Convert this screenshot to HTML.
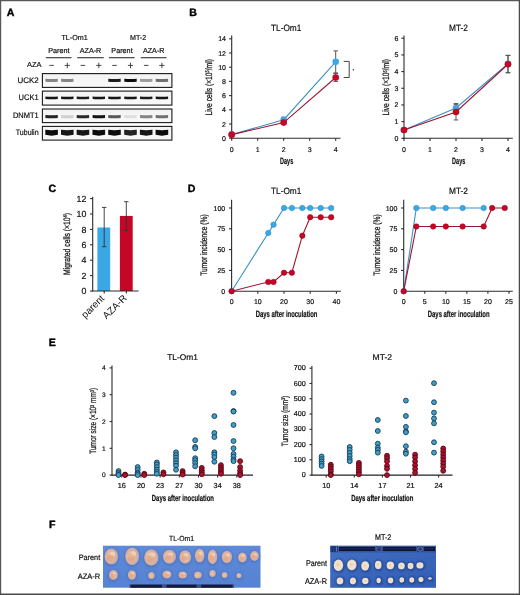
<!DOCTYPE html>
<html><head><meta charset="utf-8"><title>Figure</title>
<style>
html,body{margin:0;padding:0;background:#fff;}
body{width:520px;height:595px;overflow:hidden;position:relative;}
svg{position:absolute;left:0;top:0;display:block;will-change:transform;filter:blur(0.35px);}
svg text{font-family:"Liberation Sans", sans-serif;text-rendering:geometricPrecision;}
</style></head>
<body>
<svg width="520" height="595" viewBox="0 0 520 595">
<rect x="0" y="0" width="520" height="595" fill="#fff"/>
<text x="6.80" y="16.00" font-size="10.6" text-anchor="start" font-weight="bold" fill="#000" stroke="#000" stroke-width="0.4">A</text>
<text x="189.20" y="16.00" font-size="10.6" text-anchor="start" font-weight="bold" fill="#000" stroke="#000" stroke-width="0.4">B</text>
<text x="48.50" y="191.60" font-size="10.6" text-anchor="start" font-weight="bold" fill="#000" stroke="#000" stroke-width="0.4">C</text>
<text x="187.80" y="191.60" font-size="10.6" text-anchor="start" font-weight="bold" fill="#000" stroke="#000" stroke-width="0.4">D</text>
<text x="48.80" y="345.80" font-size="10.6" text-anchor="start" font-weight="bold" fill="#000" stroke="#000" stroke-width="0.4">E</text>
<text x="49.00" y="528.10" font-size="10.6" text-anchor="start" font-weight="bold" fill="#000" stroke="#000" stroke-width="0.4">F</text>
<text x="74.60" y="40.40" font-size="7.3" text-anchor="middle" font-weight="normal" fill="#111" textLength="26.2" lengthAdjust="spacingAndGlyphs" stroke="#111" stroke-width="0.2">TL-Om1</text>
<text x="138.10" y="40.40" font-size="7.3" text-anchor="middle" font-weight="normal" fill="#111" textLength="16.2" lengthAdjust="spacingAndGlyphs" stroke="#111" stroke-width="0.2">MT-2</text>
<text x="58.90" y="52.60" font-size="7.3" text-anchor="middle" font-weight="normal" fill="#111" textLength="21.3" lengthAdjust="spacingAndGlyphs" stroke="#111" stroke-width="0.2">Parent</text>
<text x="90.50" y="52.60" font-size="7.3" text-anchor="middle" font-weight="normal" fill="#111" textLength="21.6" lengthAdjust="spacingAndGlyphs" stroke="#111" stroke-width="0.2">AZA-R</text>
<text x="122.00" y="52.60" font-size="7.3" text-anchor="middle" font-weight="normal" fill="#111" textLength="21.3" lengthAdjust="spacingAndGlyphs" stroke="#111" stroke-width="0.2">Parent</text>
<text x="153.70" y="52.60" font-size="7.3" text-anchor="middle" font-weight="normal" fill="#111" textLength="21.6" lengthAdjust="spacingAndGlyphs" stroke="#111" stroke-width="0.2">AZA-R</text>
<line x1="45.80" y1="57.70" x2="71.50" y2="57.70" stroke="#333" stroke-width="1.1"/>
<line x1="77.20" y1="57.70" x2="103.80" y2="57.70" stroke="#333" stroke-width="1.1"/>
<line x1="108.90" y1="57.70" x2="134.60" y2="57.70" stroke="#333" stroke-width="1.1"/>
<line x1="140.80" y1="57.70" x2="166.50" y2="57.70" stroke="#333" stroke-width="1.1"/>
<text x="41.50" y="67.20" font-size="7.3" text-anchor="end" font-weight="normal" fill="#111" textLength="14.4" lengthAdjust="spacingAndGlyphs" stroke="#111" stroke-width="0.2">AZA</text>
<line x1="49.30" y1="65.40" x2="53.90" y2="65.40" stroke="#333" stroke-width="0.9"/>
<line x1="64.70" y1="65.40" x2="69.90" y2="65.40" stroke="#333" stroke-width="0.9"/>
<line x1="67.30" y1="62.70" x2="67.30" y2="68.20" stroke="#333" stroke-width="0.9"/>
<line x1="80.60" y1="65.40" x2="85.20" y2="65.40" stroke="#333" stroke-width="0.9"/>
<line x1="96.20" y1="65.40" x2="101.40" y2="65.40" stroke="#333" stroke-width="0.9"/>
<line x1="98.80" y1="62.70" x2="98.80" y2="68.20" stroke="#333" stroke-width="0.9"/>
<line x1="112.20" y1="65.40" x2="116.80" y2="65.40" stroke="#333" stroke-width="0.9"/>
<line x1="127.90" y1="65.40" x2="133.10" y2="65.40" stroke="#333" stroke-width="0.9"/>
<line x1="130.50" y1="62.70" x2="130.50" y2="68.20" stroke="#333" stroke-width="0.9"/>
<line x1="143.90" y1="65.40" x2="148.50" y2="65.40" stroke="#333" stroke-width="0.9"/>
<line x1="159.30" y1="65.40" x2="164.50" y2="65.40" stroke="#333" stroke-width="0.9"/>
<line x1="161.90" y1="62.70" x2="161.90" y2="68.20" stroke="#333" stroke-width="0.9"/>
<defs><filter id="bl" x="-30%" y="-100%" width="160%" height="300%"><feGaussianBlur stdDeviation="0.7"/></filter><filter id="bl2" x="-30%" y="-100%" width="160%" height="300%"><feGaussianBlur stdDeviation="0.8"/></filter><linearGradient id="boxbg" x1="0" y1="0" x2="0" y2="1"><stop offset="0" stop-color="#f3f3f3"/><stop offset="1" stop-color="#f9f9f9"/></linearGradient></defs>
<text x="38.60" y="82.50" font-size="8.0" text-anchor="end" font-weight="normal" fill="#111" textLength="21.1" lengthAdjust="spacingAndGlyphs" stroke="#111" stroke-width="0.2">UCK2</text>
<rect x="42.4" y="73.60" width="129.5" height="13.80" fill="url(#boxbg)" stroke="#1a1a1a" stroke-width="1.1"/>
<path d="M45.40,78.80 Q51.60,79.20 57.80,78.80 L57.80,81.80 Q51.60,82.30 45.40,81.80 Z" fill="rgb(133,133,133)" filter="url(#bl)"/>
<path d="M61.10,78.80 Q67.30,79.20 73.50,78.80 L73.50,81.80 Q67.30,82.30 61.10,81.80 Z" fill="rgb(133,133,133)" filter="url(#bl)"/>
<path d="M108.30,78.80 Q114.50,79.20 120.70,78.80 L120.70,81.80 Q114.50,82.30 108.30,81.80 Z" fill="rgb(28,28,28)" filter="url(#bl)"/>
<path d="M124.30,78.80 Q130.50,79.20 136.70,78.80 L136.70,81.80 Q130.50,82.30 124.30,81.80 Z" fill="rgb(14,14,14)" filter="url(#bl)"/>
<path d="M140.00,78.80 Q146.20,79.20 152.40,78.80 L152.40,81.80 Q146.20,82.30 140.00,81.80 Z" fill="rgb(156,156,156)" filter="url(#bl)"/>
<path d="M155.70,78.80 Q161.90,79.20 168.10,78.80 L168.10,81.80 Q161.90,82.30 155.70,81.80 Z" fill="rgb(111,111,111)" filter="url(#bl)"/>
<text x="38.60" y="100.10" font-size="8.0" text-anchor="end" font-weight="normal" fill="#111" textLength="20.1" lengthAdjust="spacingAndGlyphs" stroke="#111" stroke-width="0.2">UCK1</text>
<rect x="42.4" y="91.10" width="129.5" height="14.00" fill="url(#boxbg)" stroke="#1a1a1a" stroke-width="1.1"/>
<path d="M45.40,96.40 Q51.60,96.90 57.80,96.40 L57.80,98.90 Q51.60,99.50 45.40,98.90 Z" fill="rgb(21,21,21)" filter="url(#bl)"/>
<path d="M61.10,96.40 Q67.30,96.90 73.50,96.40 L73.50,98.90 Q67.30,99.50 61.10,98.90 Z" fill="rgb(21,21,21)" filter="url(#bl)"/>
<path d="M76.70,96.40 Q82.90,96.90 89.10,96.40 L89.10,98.90 Q82.90,99.50 76.70,98.90 Z" fill="rgb(28,28,28)" filter="url(#bl)"/>
<path d="M92.60,96.40 Q98.80,96.90 105.00,96.40 L105.00,98.90 Q98.80,99.50 92.60,98.90 Z" fill="rgb(21,21,21)" filter="url(#bl)"/>
<path d="M108.30,96.40 Q114.50,96.90 120.70,96.40 L120.70,98.90 Q114.50,99.50 108.30,98.90 Z" fill="rgb(21,21,21)" filter="url(#bl)"/>
<path d="M124.30,96.40 Q130.50,96.90 136.70,96.40 L136.70,98.90 Q130.50,99.50 124.30,98.90 Z" fill="rgb(21,21,21)" filter="url(#bl)"/>
<path d="M140.00,96.40 Q146.20,96.90 152.40,96.40 L152.40,98.90 Q146.20,99.50 140.00,98.90 Z" fill="rgb(28,28,28)" filter="url(#bl)"/>
<path d="M155.70,96.40 Q161.90,96.90 168.10,96.40 L168.10,98.90 Q161.90,99.50 155.70,98.90 Z" fill="rgb(21,21,21)" filter="url(#bl)"/>
<text x="38.60" y="117.80" font-size="8.0" text-anchor="end" font-weight="normal" fill="#111" textLength="25.7" lengthAdjust="spacingAndGlyphs" stroke="#111" stroke-width="0.2">DNMT1</text>
<rect x="42.4" y="109.00" width="129.5" height="13.60" fill="url(#boxbg)" stroke="#1a1a1a" stroke-width="1.1"/>
<path d="M45.40,115.10 Q51.60,115.50 57.80,115.10 L57.80,118.10 Q51.60,118.60 45.40,118.10 Z" fill="rgb(32,32,32)" filter="url(#bl)"/>
<path d="M61.10,115.10 Q67.30,115.50 73.50,115.10 L73.50,118.10 Q67.30,118.60 61.10,118.10 Z" fill="rgb(208,208,208)" filter="url(#bl)"/>
<path d="M76.70,115.10 Q82.90,115.50 89.10,115.10 L89.10,118.10 Q82.90,118.60 76.70,118.10 Z" fill="rgb(43,43,43)" filter="url(#bl)"/>
<path d="M92.60,115.10 Q98.80,115.50 105.00,115.10 L105.00,118.10 Q98.80,118.60 92.60,118.10 Z" fill="rgb(21,21,21)" filter="url(#bl)"/>
<path d="M108.30,115.10 Q114.50,115.50 120.70,115.10 L120.70,118.10 Q114.50,118.60 108.30,118.10 Z" fill="rgb(88,88,88)" filter="url(#bl)"/>
<path d="M124.30,115.10 Q130.50,115.50 136.70,115.10 L136.70,118.10 Q130.50,118.60 124.30,118.10 Z" fill="rgb(223,223,223)" filter="url(#bl)"/>
<path d="M140.00,115.10 Q146.20,115.50 152.40,115.10 L152.40,118.10 Q146.20,118.60 140.00,118.10 Z" fill="rgb(133,133,133)" filter="url(#bl)"/>
<path d="M155.70,115.10 Q161.90,115.50 168.10,115.10 L168.10,118.10 Q161.90,118.60 155.70,118.10 Z" fill="rgb(111,111,111)" filter="url(#bl)"/>
<text x="38.60" y="135.25" font-size="8.0" text-anchor="end" font-weight="normal" fill="#111" textLength="22.8" lengthAdjust="spacingAndGlyphs" stroke="#111" stroke-width="0.2">Tubulin</text>
<rect x="42.4" y="126.40" width="129.5" height="13.70" fill="url(#boxbg)" stroke="#1a1a1a" stroke-width="1.1"/>
<path d="M45.30,129.85 Q51.60,130.45 57.90,129.85 L57.90,134.85 Q51.60,136.45 45.30,134.85 Z" fill="rgb(10,10,10)" filter="url(#bl)"/>
<path d="M61.00,129.85 Q67.30,130.45 73.60,129.85 L73.60,134.85 Q67.30,136.45 61.00,134.85 Z" fill="rgb(21,21,21)" filter="url(#bl)"/>
<path d="M76.60,129.85 Q82.90,130.45 89.20,129.85 L89.20,134.85 Q82.90,136.45 76.60,134.85 Z" fill="rgb(21,21,21)" filter="url(#bl)"/>
<path d="M92.50,129.85 Q98.80,130.45 105.10,129.85 L105.10,134.85 Q98.80,136.45 92.50,134.85 Z" fill="rgb(10,10,10)" filter="url(#bl)"/>
<path d="M108.20,129.85 Q114.50,130.45 120.80,129.85 L120.80,134.85 Q114.50,136.45 108.20,134.85 Z" fill="rgb(10,10,10)" filter="url(#bl)"/>
<path d="M124.20,129.85 Q130.50,130.45 136.80,129.85 L136.80,134.85 Q130.50,136.45 124.20,134.85 Z" fill="rgb(32,32,32)" filter="url(#bl)"/>
<path d="M139.90,129.85 Q146.20,130.45 152.50,129.85 L152.50,134.85 Q146.20,136.45 139.90,134.85 Z" fill="rgb(21,21,21)" filter="url(#bl)"/>
<path d="M155.60,129.85 Q161.90,130.45 168.20,129.85 L168.20,134.85 Q161.90,136.45 155.60,134.85 Z" fill="rgb(10,10,10)" filter="url(#bl)"/>
<text x="286.20" y="30.60" font-size="9.2" text-anchor="middle" font-weight="normal" fill="#111" textLength="30.3" lengthAdjust="spacingAndGlyphs" stroke="#111" stroke-width="0.2">TL-Om1</text>
<line x1="231.70" y1="35.60" x2="231.70" y2="138.70" stroke="#2b2b2b" stroke-width="1.1"/>
<line x1="229.10" y1="138.20" x2="231.70" y2="138.20" stroke="#2b2b2b" stroke-width="1.1"/>
<text x="226.00" y="140.70" font-size="7.0" text-anchor="end" font-weight="normal" fill="#111" stroke="#111" stroke-width="0.2">0</text>
<line x1="229.10" y1="124.00" x2="231.70" y2="124.00" stroke="#2b2b2b" stroke-width="1.1"/>
<text x="226.00" y="126.50" font-size="7.0" text-anchor="end" font-weight="normal" fill="#111" stroke="#111" stroke-width="0.2">2</text>
<line x1="229.10" y1="109.80" x2="231.70" y2="109.80" stroke="#2b2b2b" stroke-width="1.1"/>
<text x="226.00" y="112.30" font-size="7.0" text-anchor="end" font-weight="normal" fill="#111" stroke="#111" stroke-width="0.2">4</text>
<line x1="229.10" y1="95.60" x2="231.70" y2="95.60" stroke="#2b2b2b" stroke-width="1.1"/>
<text x="226.00" y="98.10" font-size="7.0" text-anchor="end" font-weight="normal" fill="#111" stroke="#111" stroke-width="0.2">6</text>
<line x1="229.10" y1="81.40" x2="231.70" y2="81.40" stroke="#2b2b2b" stroke-width="1.1"/>
<text x="226.00" y="83.90" font-size="7.0" text-anchor="end" font-weight="normal" fill="#111" stroke="#111" stroke-width="0.2">8</text>
<line x1="229.10" y1="67.20" x2="231.70" y2="67.20" stroke="#2b2b2b" stroke-width="1.1"/>
<text x="226.00" y="69.70" font-size="7.0" text-anchor="end" font-weight="normal" fill="#111" stroke="#111" stroke-width="0.2">10</text>
<line x1="229.10" y1="53.00" x2="231.70" y2="53.00" stroke="#2b2b2b" stroke-width="1.1"/>
<text x="226.00" y="55.50" font-size="7.0" text-anchor="end" font-weight="normal" fill="#111" stroke="#111" stroke-width="0.2">12</text>
<line x1="229.10" y1="38.80" x2="231.70" y2="38.80" stroke="#2b2b2b" stroke-width="1.1"/>
<text x="226.00" y="41.30" font-size="7.0" text-anchor="end" font-weight="normal" fill="#111" stroke="#111" stroke-width="0.2">14</text>
<line x1="231.20" y1="138.20" x2="340.50" y2="138.20" stroke="#2b2b2b" stroke-width="1.1"/>
<line x1="231.70" y1="138.20" x2="231.70" y2="140.80" stroke="#2b2b2b" stroke-width="1.1"/>
<text x="231.70" y="151.60" font-size="7.0" text-anchor="middle" font-weight="normal" fill="#111" stroke="#111" stroke-width="0.2">0</text>
<line x1="257.70" y1="138.20" x2="257.70" y2="140.80" stroke="#2b2b2b" stroke-width="1.1"/>
<text x="257.70" y="151.60" font-size="7.0" text-anchor="middle" font-weight="normal" fill="#111" stroke="#111" stroke-width="0.2">1</text>
<line x1="283.70" y1="138.20" x2="283.70" y2="140.80" stroke="#2b2b2b" stroke-width="1.1"/>
<text x="283.70" y="151.60" font-size="7.0" text-anchor="middle" font-weight="normal" fill="#111" stroke="#111" stroke-width="0.2">2</text>
<line x1="309.70" y1="138.20" x2="309.70" y2="140.80" stroke="#2b2b2b" stroke-width="1.1"/>
<text x="309.70" y="151.60" font-size="7.0" text-anchor="middle" font-weight="normal" fill="#111" stroke="#111" stroke-width="0.2">3</text>
<line x1="335.70" y1="138.20" x2="335.70" y2="140.80" stroke="#2b2b2b" stroke-width="1.1"/>
<text x="335.70" y="151.60" font-size="7.0" text-anchor="middle" font-weight="normal" fill="#111" stroke="#111" stroke-width="0.2">4</text>
<text x="286.60" y="164.40" font-size="9.2" text-anchor="middle" font-weight="bold" fill="#111" textLength="13.2" lengthAdjust="spacingAndGlyphs" stroke="#111" stroke-width="0.2">Days</text>
<text transform="translate(211.60,87.30) rotate(-90)" x="0" y="0" font-size="9.35" font-weight="normal" text-anchor="middle" fill="#1a1a1a" stroke="#1a1a1a" stroke-width="0.28" textLength="56.5" lengthAdjust="spacingAndGlyphs">Live cells (×10<tspan font-size="5.5" dy="-2.6">5</tspan><tspan dy="2.6">/ml)</tspan></text>
<line x1="283.70" y1="117.25" x2="283.70" y2="121.87" stroke="#555" stroke-width="1.0"/>
<line x1="281.40" y1="117.25" x2="286.00" y2="117.25" stroke="#555" stroke-width="1.0"/>
<line x1="281.40" y1="121.87" x2="286.00" y2="121.87" stroke="#555" stroke-width="1.0"/>
<line x1="335.70" y1="50.87" x2="335.70" y2="72.88" stroke="#555" stroke-width="1.0"/>
<line x1="333.40" y1="50.87" x2="338.00" y2="50.87" stroke="#555" stroke-width="1.0"/>
<line x1="333.40" y1="72.88" x2="338.00" y2="72.88" stroke="#555" stroke-width="1.0"/>
<line x1="283.70" y1="120.80" x2="283.70" y2="124.35" stroke="#555" stroke-width="1.0"/>
<line x1="281.40" y1="120.80" x2="286.00" y2="120.80" stroke="#555" stroke-width="1.0"/>
<line x1="281.40" y1="124.35" x2="286.00" y2="124.35" stroke="#555" stroke-width="1.0"/>
<line x1="335.70" y1="73.59" x2="335.70" y2="81.40" stroke="#555" stroke-width="1.0"/>
<line x1="333.40" y1="73.59" x2="338.00" y2="73.59" stroke="#555" stroke-width="1.0"/>
<line x1="333.40" y1="81.40" x2="338.00" y2="81.40" stroke="#555" stroke-width="1.0"/>
<polyline points="231.70,134.65 283.70,119.74 335.70,61.87" fill="none" stroke="#3a92c4" stroke-width="1.1"/>
<circle cx="231.70" cy="134.65" r="3.3" fill="#39a8e4" stroke="none" stroke-width="0"/>
<circle cx="283.70" cy="119.74" r="3.3" fill="#39a8e4" stroke="none" stroke-width="0"/>
<circle cx="335.70" cy="61.87" r="3.3" fill="#39a8e4" stroke="none" stroke-width="0"/>
<polyline points="231.70,134.65 283.70,122.58 335.70,77.49" fill="none" stroke="#9a1532" stroke-width="1.1"/>
<circle cx="231.70" cy="134.65" r="3.3" fill="#c40726" stroke="none" stroke-width="0"/>
<circle cx="283.70" cy="122.58" r="3.3" fill="#c40726" stroke="none" stroke-width="0"/>
<circle cx="335.70" cy="77.49" r="3.3" fill="#c40726" stroke="none" stroke-width="0"/>
<polyline points="343.7,61.4 349.2,61.4 349.2,77.5 343.7,77.5" fill="none" stroke="#444" stroke-width="1"/>
<circle cx="353.40" cy="69.80" r="0.75" fill="#333" stroke="none" stroke-width="0"/>
<text x="458.50" y="30.60" font-size="9.2" text-anchor="middle" font-weight="normal" fill="#111" textLength="19.0" lengthAdjust="spacingAndGlyphs" stroke="#111" stroke-width="0.2">MT-2</text>
<line x1="404.00" y1="35.60" x2="404.00" y2="138.80" stroke="#2b2b2b" stroke-width="1.1"/>
<line x1="401.40" y1="138.30" x2="404.00" y2="138.30" stroke="#2b2b2b" stroke-width="1.1"/>
<text x="398.30" y="140.80" font-size="7.0" text-anchor="end" font-weight="normal" fill="#111" stroke="#111" stroke-width="0.2">0</text>
<line x1="401.40" y1="121.62" x2="404.00" y2="121.62" stroke="#2b2b2b" stroke-width="1.1"/>
<text x="398.30" y="124.12" font-size="7.0" text-anchor="end" font-weight="normal" fill="#111" stroke="#111" stroke-width="0.2">1</text>
<line x1="401.40" y1="104.94" x2="404.00" y2="104.94" stroke="#2b2b2b" stroke-width="1.1"/>
<text x="398.30" y="107.44" font-size="7.0" text-anchor="end" font-weight="normal" fill="#111" stroke="#111" stroke-width="0.2">2</text>
<line x1="401.40" y1="88.26" x2="404.00" y2="88.26" stroke="#2b2b2b" stroke-width="1.1"/>
<text x="398.30" y="90.76" font-size="7.0" text-anchor="end" font-weight="normal" fill="#111" stroke="#111" stroke-width="0.2">3</text>
<line x1="401.40" y1="71.58" x2="404.00" y2="71.58" stroke="#2b2b2b" stroke-width="1.1"/>
<text x="398.30" y="74.08" font-size="7.0" text-anchor="end" font-weight="normal" fill="#111" stroke="#111" stroke-width="0.2">4</text>
<line x1="401.40" y1="54.90" x2="404.00" y2="54.90" stroke="#2b2b2b" stroke-width="1.1"/>
<text x="398.30" y="57.40" font-size="7.0" text-anchor="end" font-weight="normal" fill="#111" stroke="#111" stroke-width="0.2">5</text>
<line x1="401.40" y1="38.22" x2="404.00" y2="38.22" stroke="#2b2b2b" stroke-width="1.1"/>
<text x="398.30" y="40.72" font-size="7.0" text-anchor="end" font-weight="normal" fill="#111" stroke="#111" stroke-width="0.2">6</text>
<line x1="403.50" y1="138.30" x2="512.80" y2="138.30" stroke="#2b2b2b" stroke-width="1.1"/>
<line x1="404.00" y1="138.30" x2="404.00" y2="140.90" stroke="#2b2b2b" stroke-width="1.1"/>
<text x="404.00" y="151.60" font-size="7.0" text-anchor="middle" font-weight="normal" fill="#111" stroke="#111" stroke-width="0.2">0</text>
<line x1="430.00" y1="138.30" x2="430.00" y2="140.90" stroke="#2b2b2b" stroke-width="1.1"/>
<text x="430.00" y="151.60" font-size="7.0" text-anchor="middle" font-weight="normal" fill="#111" stroke="#111" stroke-width="0.2">1</text>
<line x1="456.00" y1="138.30" x2="456.00" y2="140.90" stroke="#2b2b2b" stroke-width="1.1"/>
<text x="456.00" y="151.60" font-size="7.0" text-anchor="middle" font-weight="normal" fill="#111" stroke="#111" stroke-width="0.2">2</text>
<line x1="482.00" y1="138.30" x2="482.00" y2="140.90" stroke="#2b2b2b" stroke-width="1.1"/>
<text x="482.00" y="151.60" font-size="7.0" text-anchor="middle" font-weight="normal" fill="#111" stroke="#111" stroke-width="0.2">3</text>
<line x1="508.00" y1="138.30" x2="508.00" y2="140.90" stroke="#2b2b2b" stroke-width="1.1"/>
<text x="508.00" y="151.60" font-size="7.0" text-anchor="middle" font-weight="normal" fill="#111" stroke="#111" stroke-width="0.2">4</text>
<text x="458.70" y="164.40" font-size="9.2" text-anchor="middle" font-weight="bold" fill="#111" textLength="13.2" lengthAdjust="spacingAndGlyphs" stroke="#111" stroke-width="0.2">Days</text>
<text transform="translate(389.20,87.30) rotate(-90)" x="0" y="0" font-size="9.35" font-weight="normal" text-anchor="middle" fill="#1a1a1a" stroke="#1a1a1a" stroke-width="0.28" textLength="56.5" lengthAdjust="spacingAndGlyphs">Live cells (×10<tspan font-size="5.5" dy="-2.6">5</tspan><tspan dy="2.6">/ml)</tspan></text>
<line x1="456.00" y1="103.61" x2="456.00" y2="112.45" stroke="#555" stroke-width="1.0"/>
<line x1="453.70" y1="103.61" x2="458.30" y2="103.61" stroke="#555" stroke-width="1.0"/>
<line x1="453.70" y1="112.45" x2="458.30" y2="112.45" stroke="#555" stroke-width="1.0"/>
<line x1="508.00" y1="55.40" x2="508.00" y2="72.41" stroke="#555" stroke-width="1.0"/>
<line x1="505.70" y1="55.40" x2="510.30" y2="55.40" stroke="#555" stroke-width="1.0"/>
<line x1="505.70" y1="72.41" x2="510.30" y2="72.41" stroke="#555" stroke-width="1.0"/>
<line x1="456.00" y1="104.27" x2="456.00" y2="119.95" stroke="#555" stroke-width="1.0"/>
<line x1="453.70" y1="104.27" x2="458.30" y2="104.27" stroke="#555" stroke-width="1.0"/>
<line x1="453.70" y1="119.95" x2="458.30" y2="119.95" stroke="#555" stroke-width="1.0"/>
<line x1="508.00" y1="55.40" x2="508.00" y2="72.91" stroke="#555" stroke-width="1.0"/>
<line x1="505.70" y1="55.40" x2="510.30" y2="55.40" stroke="#555" stroke-width="1.0"/>
<line x1="505.70" y1="72.91" x2="510.30" y2="72.91" stroke="#555" stroke-width="1.0"/>
<polyline points="404.00,129.96 456.00,107.94 508.00,63.74" fill="none" stroke="#3a92c4" stroke-width="1.1"/>
<circle cx="404.00" cy="129.96" r="3.3" fill="#39a8e4" stroke="none" stroke-width="0"/>
<circle cx="456.00" cy="107.94" r="3.3" fill="#39a8e4" stroke="none" stroke-width="0"/>
<circle cx="508.00" cy="63.74" r="3.3" fill="#39a8e4" stroke="none" stroke-width="0"/>
<polyline points="404.00,129.96 456.00,111.95 508.00,64.24" fill="none" stroke="#9a1532" stroke-width="1.1"/>
<circle cx="404.00" cy="129.96" r="3.3" fill="#c40726" stroke="none" stroke-width="0"/>
<circle cx="456.00" cy="111.95" r="3.3" fill="#c40726" stroke="none" stroke-width="0"/>
<circle cx="508.00" cy="64.24" r="3.3" fill="#c40726" stroke="none" stroke-width="0"/>
<line x1="92.70" y1="196.80" x2="92.70" y2="291.50" stroke="#2b2b2b" stroke-width="1.1"/>
<line x1="90.10" y1="291.00" x2="92.70" y2="291.00" stroke="#2b2b2b" stroke-width="1.1"/>
<text x="86.30" y="294.10" font-size="8.8" text-anchor="end" font-weight="normal" fill="#111" stroke="#111" stroke-width="0.2">0</text>
<line x1="90.10" y1="275.60" x2="92.70" y2="275.60" stroke="#2b2b2b" stroke-width="1.1"/>
<text x="86.30" y="278.70" font-size="8.8" text-anchor="end" font-weight="normal" fill="#111" stroke="#111" stroke-width="0.2">2</text>
<line x1="90.10" y1="260.20" x2="92.70" y2="260.20" stroke="#2b2b2b" stroke-width="1.1"/>
<text x="86.30" y="263.30" font-size="8.8" text-anchor="end" font-weight="normal" fill="#111" stroke="#111" stroke-width="0.2">4</text>
<line x1="90.10" y1="244.80" x2="92.70" y2="244.80" stroke="#2b2b2b" stroke-width="1.1"/>
<text x="86.30" y="247.90" font-size="8.8" text-anchor="end" font-weight="normal" fill="#111" stroke="#111" stroke-width="0.2">6</text>
<line x1="90.10" y1="229.40" x2="92.70" y2="229.40" stroke="#2b2b2b" stroke-width="1.1"/>
<text x="86.30" y="232.50" font-size="8.8" text-anchor="end" font-weight="normal" fill="#111" stroke="#111" stroke-width="0.2">8</text>
<line x1="90.10" y1="214.00" x2="92.70" y2="214.00" stroke="#2b2b2b" stroke-width="1.1"/>
<text x="86.30" y="217.10" font-size="8.8" text-anchor="end" font-weight="normal" fill="#111" stroke="#111" stroke-width="0.2">10</text>
<line x1="90.10" y1="198.60" x2="92.70" y2="198.60" stroke="#2b2b2b" stroke-width="1.1"/>
<text x="86.30" y="201.70" font-size="8.8" text-anchor="end" font-weight="normal" fill="#111" stroke="#111" stroke-width="0.2">12</text>
<rect x="97.4" y="227.47" width="12.8" height="63.53" fill="#39a8e4"/>
<rect x="119.9" y="215.93" width="12.8" height="75.07" fill="#c40726"/>
<line x1="104.20" y1="207.45" x2="104.20" y2="246.72" stroke="#333" stroke-width="0.9"/>
<line x1="102.00" y1="207.45" x2="106.40" y2="207.45" stroke="#333" stroke-width="0.9"/>
<line x1="102.00" y1="246.72" x2="106.40" y2="246.72" stroke="#333" stroke-width="0.9"/>
<line x1="126.30" y1="201.68" x2="126.30" y2="230.56" stroke="#333" stroke-width="0.9"/>
<line x1="124.10" y1="201.68" x2="128.50" y2="201.68" stroke="#333" stroke-width="0.9"/>
<line x1="124.10" y1="230.56" x2="128.50" y2="230.56" stroke="#333" stroke-width="0.9"/>
<line x1="92.20" y1="291.00" x2="138.50" y2="291.00" stroke="#2b2b2b" stroke-width="1.1"/>
<line x1="104.20" y1="291.00" x2="104.20" y2="293.60" stroke="#2b2b2b" stroke-width="1.1"/>
<line x1="126.30" y1="291.00" x2="126.30" y2="293.60" stroke="#2b2b2b" stroke-width="1.1"/>
<text transform="translate(70.00,244.00) rotate(-90)" x="0" y="0" font-size="9.35" font-weight="normal" text-anchor="middle" fill="#1a1a1a" stroke="#1a1a1a" stroke-width="0.28" textLength="62.0" lengthAdjust="spacingAndGlyphs">Migrated cells (×10<tspan font-size="5.5" dy="-2.6">4</tspan><tspan dy="2.6">)</tspan></text>
<text transform="translate(105.0,299.0) rotate(-45)" x="0" y="0" font-size="9.8" text-anchor="end" fill="#111">parent</text>
<text transform="translate(127.4,298.8) rotate(-45)" x="0" y="0" font-size="9.8" text-anchor="end" fill="#111">AZA-R</text>
<text x="286.20" y="194.20" font-size="9.0" text-anchor="middle" font-weight="normal" fill="#111" textLength="30.3" lengthAdjust="spacingAndGlyphs" stroke="#111" stroke-width="0.2">TL-Om1</text>
<line x1="231.60" y1="199.80" x2="231.60" y2="291.70" stroke="#2b2b2b" stroke-width="1.1"/>
<line x1="229.00" y1="291.20" x2="231.60" y2="291.20" stroke="#2b2b2b" stroke-width="1.1"/>
<text x="225.20" y="293.70" font-size="7.0" text-anchor="end" font-weight="normal" fill="#111" stroke="#111" stroke-width="0.2">0</text>
<line x1="229.00" y1="270.40" x2="231.60" y2="270.40" stroke="#2b2b2b" stroke-width="1.1"/>
<text x="225.20" y="272.90" font-size="7.0" text-anchor="end" font-weight="normal" fill="#111" stroke="#111" stroke-width="0.2">25</text>
<line x1="229.00" y1="249.60" x2="231.60" y2="249.60" stroke="#2b2b2b" stroke-width="1.1"/>
<text x="225.20" y="252.10" font-size="7.0" text-anchor="end" font-weight="normal" fill="#111" stroke="#111" stroke-width="0.2">50</text>
<line x1="229.00" y1="228.80" x2="231.60" y2="228.80" stroke="#2b2b2b" stroke-width="1.1"/>
<text x="225.20" y="231.30" font-size="7.0" text-anchor="end" font-weight="normal" fill="#111" stroke="#111" stroke-width="0.2">75</text>
<line x1="229.00" y1="208.00" x2="231.60" y2="208.00" stroke="#2b2b2b" stroke-width="1.1"/>
<text x="225.20" y="210.50" font-size="7.0" text-anchor="end" font-weight="normal" fill="#111" stroke="#111" stroke-width="0.2">100</text>
<line x1="231.10" y1="291.20" x2="340.80" y2="291.20" stroke="#2b2b2b" stroke-width="1.1"/>
<line x1="231.60" y1="291.20" x2="231.60" y2="293.80" stroke="#2b2b2b" stroke-width="1.1"/>
<text x="231.60" y="304.30" font-size="7.0" text-anchor="middle" font-weight="normal" fill="#111" stroke="#111" stroke-width="0.2">0</text>
<line x1="257.80" y1="291.20" x2="257.80" y2="293.80" stroke="#2b2b2b" stroke-width="1.1"/>
<text x="257.80" y="304.30" font-size="7.0" text-anchor="middle" font-weight="normal" fill="#111" stroke="#111" stroke-width="0.2">10</text>
<line x1="284.00" y1="291.20" x2="284.00" y2="293.80" stroke="#2b2b2b" stroke-width="1.1"/>
<text x="284.00" y="304.30" font-size="7.0" text-anchor="middle" font-weight="normal" fill="#111" stroke="#111" stroke-width="0.2">20</text>
<line x1="310.20" y1="291.20" x2="310.20" y2="293.80" stroke="#2b2b2b" stroke-width="1.1"/>
<text x="310.20" y="304.30" font-size="7.0" text-anchor="middle" font-weight="normal" fill="#111" stroke="#111" stroke-width="0.2">30</text>
<line x1="336.40" y1="291.20" x2="336.40" y2="293.80" stroke="#2b2b2b" stroke-width="1.1"/>
<text x="336.40" y="304.30" font-size="7.0" text-anchor="middle" font-weight="normal" fill="#111" stroke="#111" stroke-width="0.2">40</text>
<text x="286.60" y="317.00" font-size="9.0" text-anchor="middle" font-weight="bold" fill="#111" textLength="61.8" lengthAdjust="spacingAndGlyphs" stroke="#111" stroke-width="0.2">Days after inoculation</text>
<text transform="translate(207.00,245.10) rotate(-90)" x="0" y="0" font-size="9.35" font-weight="normal" text-anchor="middle" fill="#1a1a1a" stroke="#1a1a1a" stroke-width="0.28" textLength="61.4" lengthAdjust="spacingAndGlyphs">Tumor incidence (%)</text>
<polyline points="231.60,291.20 268.28,232.96 273.52,224.64 284.00,208.00 291.86,208.00 302.34,208.00 310.20,208.00 320.68,208.00 331.16,208.00" fill="none" stroke="#3a92c4" stroke-width="1.1"/>
<circle cx="231.60" cy="291.20" r="2.75" fill="#39a8e4" stroke="#2a8cc4" stroke-width="0.5"/>
<circle cx="268.28" cy="232.96" r="2.75" fill="#39a8e4" stroke="#2a8cc4" stroke-width="0.5"/>
<circle cx="273.52" cy="224.64" r="2.75" fill="#39a8e4" stroke="#2a8cc4" stroke-width="0.5"/>
<circle cx="284.00" cy="208.00" r="2.75" fill="#39a8e4" stroke="#2a8cc4" stroke-width="0.5"/>
<circle cx="291.86" cy="208.00" r="2.75" fill="#39a8e4" stroke="#2a8cc4" stroke-width="0.5"/>
<circle cx="302.34" cy="208.00" r="2.75" fill="#39a8e4" stroke="#2a8cc4" stroke-width="0.5"/>
<circle cx="310.20" cy="208.00" r="2.75" fill="#39a8e4" stroke="#2a8cc4" stroke-width="0.5"/>
<circle cx="320.68" cy="208.00" r="2.75" fill="#39a8e4" stroke="#2a8cc4" stroke-width="0.5"/>
<circle cx="331.16" cy="208.00" r="2.75" fill="#39a8e4" stroke="#2a8cc4" stroke-width="0.5"/>
<polyline points="231.60,291.20 268.28,281.96 273.52,281.96 284.00,272.73 291.86,272.73 302.34,235.71 310.20,217.24 320.68,217.24 331.16,217.24" fill="none" stroke="#9a1532" stroke-width="1.1"/>
<circle cx="231.60" cy="291.20" r="2.75" fill="#c40726" stroke="#9a0018" stroke-width="0.5"/>
<circle cx="268.28" cy="281.96" r="2.75" fill="#c40726" stroke="#9a0018" stroke-width="0.5"/>
<circle cx="273.52" cy="281.96" r="2.75" fill="#c40726" stroke="#9a0018" stroke-width="0.5"/>
<circle cx="284.00" cy="272.73" r="2.75" fill="#c40726" stroke="#9a0018" stroke-width="0.5"/>
<circle cx="291.86" cy="272.73" r="2.75" fill="#c40726" stroke="#9a0018" stroke-width="0.5"/>
<circle cx="302.34" cy="235.71" r="2.75" fill="#c40726" stroke="#9a0018" stroke-width="0.5"/>
<circle cx="310.20" cy="217.24" r="2.75" fill="#c40726" stroke="#9a0018" stroke-width="0.5"/>
<circle cx="320.68" cy="217.24" r="2.75" fill="#c40726" stroke="#9a0018" stroke-width="0.5"/>
<circle cx="331.16" cy="217.24" r="2.75" fill="#c40726" stroke="#9a0018" stroke-width="0.5"/>
<text x="458.50" y="194.20" font-size="9.0" text-anchor="middle" font-weight="normal" fill="#111" textLength="19.0" lengthAdjust="spacingAndGlyphs" stroke="#111" stroke-width="0.2">MT-2</text>
<line x1="403.70" y1="199.80" x2="403.70" y2="291.70" stroke="#2b2b2b" stroke-width="1.1"/>
<line x1="401.10" y1="291.20" x2="403.70" y2="291.20" stroke="#2b2b2b" stroke-width="1.1"/>
<text x="397.40" y="293.70" font-size="7.0" text-anchor="end" font-weight="normal" fill="#111" stroke="#111" stroke-width="0.2">0</text>
<line x1="401.10" y1="270.40" x2="403.70" y2="270.40" stroke="#2b2b2b" stroke-width="1.1"/>
<text x="397.40" y="272.90" font-size="7.0" text-anchor="end" font-weight="normal" fill="#111" stroke="#111" stroke-width="0.2">25</text>
<line x1="401.10" y1="249.60" x2="403.70" y2="249.60" stroke="#2b2b2b" stroke-width="1.1"/>
<text x="397.40" y="252.10" font-size="7.0" text-anchor="end" font-weight="normal" fill="#111" stroke="#111" stroke-width="0.2">50</text>
<line x1="401.10" y1="228.80" x2="403.70" y2="228.80" stroke="#2b2b2b" stroke-width="1.1"/>
<text x="397.40" y="231.30" font-size="7.0" text-anchor="end" font-weight="normal" fill="#111" stroke="#111" stroke-width="0.2">75</text>
<line x1="401.10" y1="208.00" x2="403.70" y2="208.00" stroke="#2b2b2b" stroke-width="1.1"/>
<text x="397.40" y="210.50" font-size="7.0" text-anchor="end" font-weight="normal" fill="#111" stroke="#111" stroke-width="0.2">100</text>
<line x1="403.20" y1="291.20" x2="512.80" y2="291.20" stroke="#2b2b2b" stroke-width="1.1"/>
<line x1="403.70" y1="291.20" x2="403.70" y2="293.80" stroke="#2b2b2b" stroke-width="1.1"/>
<text x="403.70" y="304.30" font-size="7.0" text-anchor="middle" font-weight="normal" fill="#111" stroke="#111" stroke-width="0.2">0</text>
<line x1="424.75" y1="291.20" x2="424.75" y2="293.80" stroke="#2b2b2b" stroke-width="1.1"/>
<text x="424.75" y="304.30" font-size="7.0" text-anchor="middle" font-weight="normal" fill="#111" stroke="#111" stroke-width="0.2">5</text>
<line x1="445.80" y1="291.20" x2="445.80" y2="293.80" stroke="#2b2b2b" stroke-width="1.1"/>
<text x="445.80" y="304.30" font-size="7.0" text-anchor="middle" font-weight="normal" fill="#111" stroke="#111" stroke-width="0.2">10</text>
<line x1="466.85" y1="291.20" x2="466.85" y2="293.80" stroke="#2b2b2b" stroke-width="1.1"/>
<text x="466.85" y="304.30" font-size="7.0" text-anchor="middle" font-weight="normal" fill="#111" stroke="#111" stroke-width="0.2">15</text>
<line x1="487.90" y1="291.20" x2="487.90" y2="293.80" stroke="#2b2b2b" stroke-width="1.1"/>
<text x="487.90" y="304.30" font-size="7.0" text-anchor="middle" font-weight="normal" fill="#111" stroke="#111" stroke-width="0.2">20</text>
<line x1="508.95" y1="291.20" x2="508.95" y2="293.80" stroke="#2b2b2b" stroke-width="1.1"/>
<text x="508.95" y="304.30" font-size="7.0" text-anchor="middle" font-weight="normal" fill="#111" stroke="#111" stroke-width="0.2">25</text>
<text x="458.70" y="317.00" font-size="9.0" text-anchor="middle" font-weight="bold" fill="#111" textLength="61.8" lengthAdjust="spacingAndGlyphs" stroke="#111" stroke-width="0.2">Days after inoculation</text>
<text transform="translate(379.60,245.10) rotate(-90)" x="0" y="0" font-size="9.35" font-weight="normal" text-anchor="middle" fill="#1a1a1a" stroke="#1a1a1a" stroke-width="0.28" textLength="61.4" lengthAdjust="spacingAndGlyphs">Tumor incidence (%)</text>
<polyline points="403.70,291.20 416.33,208.00 433.17,208.00 445.80,208.00 462.64,208.00 483.69,208.00" fill="none" stroke="#3a92c4" stroke-width="1.1"/>
<circle cx="403.70" cy="291.20" r="2.75" fill="#39a8e4" stroke="#2a8cc4" stroke-width="0.5"/>
<circle cx="416.33" cy="208.00" r="2.75" fill="#39a8e4" stroke="#2a8cc4" stroke-width="0.5"/>
<circle cx="433.17" cy="208.00" r="2.75" fill="#39a8e4" stroke="#2a8cc4" stroke-width="0.5"/>
<circle cx="445.80" cy="208.00" r="2.75" fill="#39a8e4" stroke="#2a8cc4" stroke-width="0.5"/>
<circle cx="462.64" cy="208.00" r="2.75" fill="#39a8e4" stroke="#2a8cc4" stroke-width="0.5"/>
<circle cx="483.69" cy="208.00" r="2.75" fill="#39a8e4" stroke="#2a8cc4" stroke-width="0.5"/>
<polyline points="403.70,291.20 416.33,226.47 433.17,226.47 445.80,226.47 462.64,226.47 483.69,226.47 492.11,208.00 504.74,208.00" fill="none" stroke="#9a1532" stroke-width="1.1"/>
<circle cx="403.70" cy="291.20" r="2.75" fill="#c40726" stroke="#9a0018" stroke-width="0.5"/>
<circle cx="416.33" cy="226.47" r="2.75" fill="#c40726" stroke="#9a0018" stroke-width="0.5"/>
<circle cx="433.17" cy="226.47" r="2.75" fill="#c40726" stroke="#9a0018" stroke-width="0.5"/>
<circle cx="445.80" cy="226.47" r="2.75" fill="#c40726" stroke="#9a0018" stroke-width="0.5"/>
<circle cx="462.64" cy="226.47" r="2.75" fill="#c40726" stroke="#9a0018" stroke-width="0.5"/>
<circle cx="483.69" cy="226.47" r="2.75" fill="#c40726" stroke="#9a0018" stroke-width="0.5"/>
<circle cx="492.11" cy="208.00" r="2.75" fill="#c40726" stroke="#9a0018" stroke-width="0.5"/>
<circle cx="504.74" cy="208.00" r="2.75" fill="#c40726" stroke="#9a0018" stroke-width="0.5"/>
<text x="182.50" y="359.90" font-size="8.4" text-anchor="middle" font-weight="normal" fill="#111" textLength="30.6" lengthAdjust="spacingAndGlyphs" stroke="#111" stroke-width="0.2">TL-Om1</text>
<line x1="112.00" y1="365.60" x2="112.00" y2="475.60" stroke="#2b2b2b" stroke-width="1.1"/>
<line x1="109.60" y1="475.10" x2="112.00" y2="475.10" stroke="#2b2b2b" stroke-width="1.1"/>
<text x="105.60" y="477.30" font-size="6.6" text-anchor="end" font-weight="normal" fill="#111" stroke="#111" stroke-width="0.2">0</text>
<line x1="109.60" y1="448.30" x2="112.00" y2="448.30" stroke="#2b2b2b" stroke-width="1.1"/>
<text x="105.60" y="450.50" font-size="6.6" text-anchor="end" font-weight="normal" fill="#111" stroke="#111" stroke-width="0.2">1</text>
<line x1="109.60" y1="421.50" x2="112.00" y2="421.50" stroke="#2b2b2b" stroke-width="1.1"/>
<text x="105.60" y="423.70" font-size="6.6" text-anchor="end" font-weight="normal" fill="#111" stroke="#111" stroke-width="0.2">2</text>
<line x1="109.60" y1="394.70" x2="112.00" y2="394.70" stroke="#2b2b2b" stroke-width="1.1"/>
<text x="105.60" y="396.90" font-size="6.6" text-anchor="end" font-weight="normal" fill="#111" stroke="#111" stroke-width="0.2">3</text>
<line x1="109.60" y1="367.90" x2="112.00" y2="367.90" stroke="#2b2b2b" stroke-width="1.1"/>
<text x="105.60" y="370.10" font-size="6.6" text-anchor="end" font-weight="normal" fill="#111" stroke="#111" stroke-width="0.2">4</text>
<line x1="111.50" y1="475.10" x2="253.00" y2="475.10" stroke="#222" stroke-width="1.4"/>
<line x1="121.80" y1="475.10" x2="121.80" y2="477.50" stroke="#2b2b2b" stroke-width="1.1"/>
<text x="121.80" y="487.80" font-size="7.3" text-anchor="middle" font-weight="normal" fill="#111" stroke="#111" stroke-width="0.2">16</text>
<line x1="140.97" y1="475.10" x2="140.97" y2="477.50" stroke="#2b2b2b" stroke-width="1.1"/>
<text x="140.97" y="487.80" font-size="7.3" text-anchor="middle" font-weight="normal" fill="#111" stroke="#111" stroke-width="0.2">20</text>
<line x1="160.14" y1="475.10" x2="160.14" y2="477.50" stroke="#2b2b2b" stroke-width="1.1"/>
<text x="160.14" y="487.80" font-size="7.3" text-anchor="middle" font-weight="normal" fill="#111" stroke="#111" stroke-width="0.2">23</text>
<line x1="179.31" y1="475.10" x2="179.31" y2="477.50" stroke="#2b2b2b" stroke-width="1.1"/>
<text x="179.31" y="487.80" font-size="7.3" text-anchor="middle" font-weight="normal" fill="#111" stroke="#111" stroke-width="0.2">27</text>
<line x1="198.48" y1="475.10" x2="198.48" y2="477.50" stroke="#2b2b2b" stroke-width="1.1"/>
<text x="198.48" y="487.80" font-size="7.3" text-anchor="middle" font-weight="normal" fill="#111" stroke="#111" stroke-width="0.2">30</text>
<line x1="217.65" y1="475.10" x2="217.65" y2="477.50" stroke="#2b2b2b" stroke-width="1.1"/>
<text x="217.65" y="487.80" font-size="7.3" text-anchor="middle" font-weight="normal" fill="#111" stroke="#111" stroke-width="0.2">34</text>
<line x1="236.82" y1="475.10" x2="236.82" y2="477.50" stroke="#2b2b2b" stroke-width="1.1"/>
<text x="236.82" y="487.80" font-size="7.3" text-anchor="middle" font-weight="normal" fill="#111" stroke="#111" stroke-width="0.2">38</text>
<text x="182.90" y="500.70" font-size="8.8" text-anchor="middle" font-weight="bold" fill="#111" textLength="62.2" lengthAdjust="spacingAndGlyphs" stroke="#111" stroke-width="0.2">Days after inoculation</text>
<text transform="translate(96.40,420.80) rotate(-90)" x="0" y="0" font-size="9.12" font-weight="normal" text-anchor="middle" fill="#1a1a1a" stroke="#1a1a1a" stroke-width="0.28" textLength="65.9" lengthAdjust="spacingAndGlyphs">Tumor size (×10<tspan font-size="5.3" dy="-2.5">3</tspan><tspan dy="2.5"> mm</tspan><tspan font-size="5.3" dy="-2.5">3</tspan><tspan dy="2.5">)</tspan></text>
<circle cx="118.50" cy="471.08" r="2.45" fill="#419cc6" stroke="#163e57" stroke-width="0.9"/>
<circle cx="118.50" cy="472.96" r="2.45" fill="#419cc6" stroke="#163e57" stroke-width="0.9"/>
<circle cx="118.50" cy="474.30" r="2.45" fill="#419cc6" stroke="#163e57" stroke-width="0.9"/>
<circle cx="118.50" cy="475.10" r="2.45" fill="#419cc6" stroke="#163e57" stroke-width="0.9"/>
<circle cx="137.67" cy="467.06" r="2.45" fill="#419cc6" stroke="#163e57" stroke-width="0.9"/>
<circle cx="137.67" cy="469.74" r="2.45" fill="#419cc6" stroke="#163e57" stroke-width="0.9"/>
<circle cx="137.67" cy="472.42" r="2.45" fill="#419cc6" stroke="#163e57" stroke-width="0.9"/>
<circle cx="137.67" cy="473.76" r="2.45" fill="#419cc6" stroke="#163e57" stroke-width="0.9"/>
<circle cx="137.67" cy="475.10" r="2.45" fill="#419cc6" stroke="#163e57" stroke-width="0.9"/>
<circle cx="156.84" cy="462.50" r="2.45" fill="#419cc6" stroke="#163e57" stroke-width="0.9"/>
<circle cx="156.84" cy="464.38" r="2.45" fill="#419cc6" stroke="#163e57" stroke-width="0.9"/>
<circle cx="156.84" cy="467.06" r="2.45" fill="#419cc6" stroke="#163e57" stroke-width="0.9"/>
<circle cx="156.84" cy="469.74" r="2.45" fill="#419cc6" stroke="#163e57" stroke-width="0.9"/>
<circle cx="156.84" cy="471.88" r="2.45" fill="#419cc6" stroke="#163e57" stroke-width="0.9"/>
<circle cx="156.84" cy="473.76" r="2.45" fill="#419cc6" stroke="#163e57" stroke-width="0.9"/>
<circle cx="176.01" cy="452.32" r="2.45" fill="#419cc6" stroke="#163e57" stroke-width="0.9"/>
<circle cx="176.01" cy="455.00" r="2.45" fill="#419cc6" stroke="#163e57" stroke-width="0.9"/>
<circle cx="176.01" cy="457.68" r="2.45" fill="#419cc6" stroke="#163e57" stroke-width="0.9"/>
<circle cx="176.01" cy="460.36" r="2.45" fill="#419cc6" stroke="#163e57" stroke-width="0.9"/>
<circle cx="176.01" cy="463.04" r="2.45" fill="#419cc6" stroke="#163e57" stroke-width="0.9"/>
<circle cx="176.01" cy="465.72" r="2.45" fill="#419cc6" stroke="#163e57" stroke-width="0.9"/>
<circle cx="176.01" cy="469.74" r="2.45" fill="#419cc6" stroke="#163e57" stroke-width="0.9"/>
<circle cx="195.18" cy="440.26" r="2.45" fill="#419cc6" stroke="#163e57" stroke-width="0.9"/>
<circle cx="195.18" cy="446.96" r="2.45" fill="#419cc6" stroke="#163e57" stroke-width="0.9"/>
<circle cx="195.18" cy="448.30" r="2.45" fill="#419cc6" stroke="#163e57" stroke-width="0.9"/>
<circle cx="195.18" cy="458.22" r="2.45" fill="#419cc6" stroke="#163e57" stroke-width="0.9"/>
<circle cx="195.18" cy="460.36" r="2.45" fill="#419cc6" stroke="#163e57" stroke-width="0.9"/>
<circle cx="195.18" cy="463.04" r="2.45" fill="#419cc6" stroke="#163e57" stroke-width="0.9"/>
<circle cx="195.18" cy="466.26" r="2.45" fill="#419cc6" stroke="#163e57" stroke-width="0.9"/>
<circle cx="214.35" cy="416.14" r="2.45" fill="#419cc6" stroke="#163e57" stroke-width="0.9"/>
<circle cx="214.35" cy="433.02" r="2.45" fill="#419cc6" stroke="#163e57" stroke-width="0.9"/>
<circle cx="214.35" cy="437.04" r="2.45" fill="#419cc6" stroke="#163e57" stroke-width="0.9"/>
<circle cx="214.35" cy="452.32" r="2.45" fill="#419cc6" stroke="#163e57" stroke-width="0.9"/>
<circle cx="214.35" cy="454.46" r="2.45" fill="#419cc6" stroke="#163e57" stroke-width="0.9"/>
<circle cx="214.35" cy="457.14" r="2.45" fill="#419cc6" stroke="#163e57" stroke-width="0.9"/>
<circle cx="214.35" cy="461.70" r="2.45" fill="#419cc6" stroke="#163e57" stroke-width="0.9"/>
<circle cx="233.52" cy="392.82" r="2.45" fill="#419cc6" stroke="#163e57" stroke-width="0.9"/>
<circle cx="233.52" cy="411.05" r="2.45" fill="#419cc6" stroke="#163e57" stroke-width="0.9"/>
<circle cx="233.52" cy="411.58" r="2.45" fill="#419cc6" stroke="#163e57" stroke-width="0.9"/>
<circle cx="233.52" cy="424.98" r="2.45" fill="#419cc6" stroke="#163e57" stroke-width="0.9"/>
<circle cx="233.52" cy="441.06" r="2.45" fill="#419cc6" stroke="#163e57" stroke-width="0.9"/>
<circle cx="233.52" cy="448.30" r="2.45" fill="#419cc6" stroke="#163e57" stroke-width="0.9"/>
<circle cx="233.52" cy="453.93" r="2.45" fill="#419cc6" stroke="#163e57" stroke-width="0.9"/>
<circle cx="233.52" cy="456.61" r="2.45" fill="#419cc6" stroke="#163e57" stroke-width="0.9"/>
<circle cx="233.52" cy="459.56" r="2.45" fill="#419cc6" stroke="#163e57" stroke-width="0.9"/>
<circle cx="233.52" cy="461.16" r="2.45" fill="#419cc6" stroke="#163e57" stroke-width="0.9"/>
<circle cx="125.10" cy="474.56" r="2.45" fill="#b20f2d" stroke="#520713" stroke-width="0.9"/>
<circle cx="125.10" cy="475.10" r="2.45" fill="#b20f2d" stroke="#520713" stroke-width="0.9"/>
<circle cx="144.27" cy="473.76" r="2.45" fill="#b20f2d" stroke="#520713" stroke-width="0.9"/>
<circle cx="144.27" cy="475.10" r="2.45" fill="#b20f2d" stroke="#520713" stroke-width="0.9"/>
<circle cx="163.44" cy="472.42" r="2.45" fill="#b20f2d" stroke="#520713" stroke-width="0.9"/>
<circle cx="163.44" cy="474.30" r="2.45" fill="#b20f2d" stroke="#520713" stroke-width="0.9"/>
<circle cx="182.61" cy="471.08" r="2.45" fill="#b20f2d" stroke="#520713" stroke-width="0.9"/>
<circle cx="182.61" cy="472.96" r="2.45" fill="#b20f2d" stroke="#520713" stroke-width="0.9"/>
<circle cx="182.61" cy="474.56" r="2.45" fill="#b20f2d" stroke="#520713" stroke-width="0.9"/>
<circle cx="201.78" cy="467.86" r="2.45" fill="#b20f2d" stroke="#520713" stroke-width="0.9"/>
<circle cx="201.78" cy="470.28" r="2.45" fill="#b20f2d" stroke="#520713" stroke-width="0.9"/>
<circle cx="201.78" cy="472.42" r="2.45" fill="#b20f2d" stroke="#520713" stroke-width="0.9"/>
<circle cx="201.78" cy="474.30" r="2.45" fill="#b20f2d" stroke="#520713" stroke-width="0.9"/>
<circle cx="220.95" cy="465.18" r="2.45" fill="#b20f2d" stroke="#520713" stroke-width="0.9"/>
<circle cx="220.95" cy="467.60" r="2.45" fill="#b20f2d" stroke="#520713" stroke-width="0.9"/>
<circle cx="220.95" cy="469.74" r="2.45" fill="#b20f2d" stroke="#520713" stroke-width="0.9"/>
<circle cx="220.95" cy="471.88" r="2.45" fill="#b20f2d" stroke="#520713" stroke-width="0.9"/>
<circle cx="220.95" cy="473.76" r="2.45" fill="#b20f2d" stroke="#520713" stroke-width="0.9"/>
<circle cx="240.12" cy="461.16" r="2.45" fill="#b20f2d" stroke="#520713" stroke-width="0.9"/>
<circle cx="240.12" cy="467.06" r="2.45" fill="#b20f2d" stroke="#520713" stroke-width="0.9"/>
<circle cx="240.12" cy="470.54" r="2.45" fill="#b20f2d" stroke="#520713" stroke-width="0.9"/>
<circle cx="240.12" cy="473.22" r="2.45" fill="#b20f2d" stroke="#520713" stroke-width="0.9"/>
<circle cx="240.12" cy="475.10" r="2.45" fill="#b20f2d" stroke="#520713" stroke-width="0.9"/>
<text x="382.30" y="359.90" font-size="8.4" text-anchor="middle" font-weight="normal" fill="#111" textLength="19.5" lengthAdjust="spacingAndGlyphs" stroke="#111" stroke-width="0.2">MT-2</text>
<line x1="311.90" y1="365.90" x2="311.90" y2="475.60" stroke="#2b2b2b" stroke-width="1.1"/>
<line x1="309.50" y1="475.10" x2="311.90" y2="475.10" stroke="#2b2b2b" stroke-width="1.1"/>
<text x="305.80" y="477.30" font-size="7.2" text-anchor="end" font-weight="normal" fill="#111" stroke="#111" stroke-width="0.2">0</text>
<line x1="309.50" y1="459.83" x2="311.90" y2="459.83" stroke="#2b2b2b" stroke-width="1.1"/>
<text x="305.80" y="462.03" font-size="7.2" text-anchor="end" font-weight="normal" fill="#111" stroke="#111" stroke-width="0.2">100</text>
<line x1="309.50" y1="444.56" x2="311.90" y2="444.56" stroke="#2b2b2b" stroke-width="1.1"/>
<text x="305.80" y="446.76" font-size="7.2" text-anchor="end" font-weight="normal" fill="#111" stroke="#111" stroke-width="0.2">200</text>
<line x1="309.50" y1="429.29" x2="311.90" y2="429.29" stroke="#2b2b2b" stroke-width="1.1"/>
<text x="305.80" y="431.49" font-size="7.2" text-anchor="end" font-weight="normal" fill="#111" stroke="#111" stroke-width="0.2">300</text>
<line x1="309.50" y1="414.02" x2="311.90" y2="414.02" stroke="#2b2b2b" stroke-width="1.1"/>
<text x="305.80" y="416.22" font-size="7.2" text-anchor="end" font-weight="normal" fill="#111" stroke="#111" stroke-width="0.2">400</text>
<line x1="309.50" y1="398.75" x2="311.90" y2="398.75" stroke="#2b2b2b" stroke-width="1.1"/>
<text x="305.80" y="400.95" font-size="7.2" text-anchor="end" font-weight="normal" fill="#111" stroke="#111" stroke-width="0.2">500</text>
<line x1="309.50" y1="383.48" x2="311.90" y2="383.48" stroke="#2b2b2b" stroke-width="1.1"/>
<text x="305.80" y="385.68" font-size="7.2" text-anchor="end" font-weight="normal" fill="#111" stroke="#111" stroke-width="0.2">600</text>
<line x1="309.50" y1="368.21" x2="311.90" y2="368.21" stroke="#2b2b2b" stroke-width="1.1"/>
<text x="305.80" y="370.41" font-size="7.2" text-anchor="end" font-weight="normal" fill="#111" stroke="#111" stroke-width="0.2">700</text>
<line x1="311.40" y1="475.10" x2="452.50" y2="475.10" stroke="#222" stroke-width="1.4"/>
<line x1="326.20" y1="475.10" x2="326.20" y2="477.50" stroke="#2b2b2b" stroke-width="1.1"/>
<text x="326.20" y="487.80" font-size="7.3" text-anchor="middle" font-weight="normal" fill="#111" stroke="#111" stroke-width="0.2">10</text>
<line x1="354.30" y1="475.10" x2="354.30" y2="477.50" stroke="#2b2b2b" stroke-width="1.1"/>
<text x="354.30" y="487.80" font-size="7.3" text-anchor="middle" font-weight="normal" fill="#111" stroke="#111" stroke-width="0.2">14</text>
<line x1="382.40" y1="475.10" x2="382.40" y2="477.50" stroke="#2b2b2b" stroke-width="1.1"/>
<text x="382.40" y="487.80" font-size="7.3" text-anchor="middle" font-weight="normal" fill="#111" stroke="#111" stroke-width="0.2">17</text>
<line x1="410.50" y1="475.10" x2="410.50" y2="477.50" stroke="#2b2b2b" stroke-width="1.1"/>
<text x="410.50" y="487.80" font-size="7.3" text-anchor="middle" font-weight="normal" fill="#111" stroke="#111" stroke-width="0.2">21</text>
<line x1="438.60" y1="475.10" x2="438.60" y2="477.50" stroke="#2b2b2b" stroke-width="1.1"/>
<text x="438.60" y="487.80" font-size="7.3" text-anchor="middle" font-weight="normal" fill="#111" stroke="#111" stroke-width="0.2">24</text>
<text x="382.30" y="500.70" font-size="8.8" text-anchor="middle" font-weight="bold" fill="#111" textLength="62.2" lengthAdjust="spacingAndGlyphs" stroke="#111" stroke-width="0.2">Days after inoculation</text>
<text transform="translate(287.60,421.00) rotate(-90)" x="0" y="0" font-size="9.12" font-weight="normal" text-anchor="middle" fill="#1a1a1a" stroke="#1a1a1a" stroke-width="0.28" textLength="50.5" lengthAdjust="spacingAndGlyphs">Tumor size (mm<tspan font-size="5.3" dy="-2.5">3</tspan><tspan dy="2.5">)</tspan></text>
<circle cx="321.60" cy="456.47" r="2.45" fill="#419cc6" stroke="#163e57" stroke-width="0.9"/>
<circle cx="321.60" cy="459.07" r="2.45" fill="#419cc6" stroke="#163e57" stroke-width="0.9"/>
<circle cx="321.60" cy="461.36" r="2.45" fill="#419cc6" stroke="#163e57" stroke-width="0.9"/>
<circle cx="321.60" cy="463.65" r="2.45" fill="#419cc6" stroke="#163e57" stroke-width="0.9"/>
<circle cx="321.60" cy="465.94" r="2.45" fill="#419cc6" stroke="#163e57" stroke-width="0.9"/>
<circle cx="349.70" cy="447.00" r="2.45" fill="#419cc6" stroke="#163e57" stroke-width="0.9"/>
<circle cx="349.70" cy="449.90" r="2.45" fill="#419cc6" stroke="#163e57" stroke-width="0.9"/>
<circle cx="349.70" cy="452.96" r="2.45" fill="#419cc6" stroke="#163e57" stroke-width="0.9"/>
<circle cx="349.70" cy="456.01" r="2.45" fill="#419cc6" stroke="#163e57" stroke-width="0.9"/>
<circle cx="349.70" cy="459.07" r="2.45" fill="#419cc6" stroke="#163e57" stroke-width="0.9"/>
<circle cx="349.70" cy="461.20" r="2.45" fill="#419cc6" stroke="#163e57" stroke-width="0.9"/>
<circle cx="377.80" cy="419.98" r="2.45" fill="#419cc6" stroke="#163e57" stroke-width="0.9"/>
<circle cx="377.80" cy="430.97" r="2.45" fill="#419cc6" stroke="#163e57" stroke-width="0.9"/>
<circle cx="377.80" cy="443.64" r="2.45" fill="#419cc6" stroke="#163e57" stroke-width="0.9"/>
<circle cx="377.80" cy="447.61" r="2.45" fill="#419cc6" stroke="#163e57" stroke-width="0.9"/>
<circle cx="377.80" cy="449.90" r="2.45" fill="#419cc6" stroke="#163e57" stroke-width="0.9"/>
<circle cx="377.80" cy="452.65" r="2.45" fill="#419cc6" stroke="#163e57" stroke-width="0.9"/>
<circle cx="405.90" cy="400.58" r="2.45" fill="#419cc6" stroke="#163e57" stroke-width="0.9"/>
<circle cx="405.90" cy="416.01" r="2.45" fill="#419cc6" stroke="#163e57" stroke-width="0.9"/>
<circle cx="405.90" cy="426.85" r="2.45" fill="#419cc6" stroke="#163e57" stroke-width="0.9"/>
<circle cx="405.90" cy="431.43" r="2.45" fill="#419cc6" stroke="#163e57" stroke-width="0.9"/>
<circle cx="405.90" cy="432.34" r="2.45" fill="#419cc6" stroke="#163e57" stroke-width="0.9"/>
<circle cx="405.90" cy="446.24" r="2.45" fill="#419cc6" stroke="#163e57" stroke-width="0.9"/>
<circle cx="405.90" cy="451.74" r="2.45" fill="#419cc6" stroke="#163e57" stroke-width="0.9"/>
<circle cx="405.90" cy="453.72" r="2.45" fill="#419cc6" stroke="#163e57" stroke-width="0.9"/>
<circle cx="434.00" cy="383.17" r="2.45" fill="#419cc6" stroke="#163e57" stroke-width="0.9"/>
<circle cx="434.00" cy="402.26" r="2.45" fill="#419cc6" stroke="#163e57" stroke-width="0.9"/>
<circle cx="434.00" cy="412.65" r="2.45" fill="#419cc6" stroke="#163e57" stroke-width="0.9"/>
<circle cx="434.00" cy="418.45" r="2.45" fill="#419cc6" stroke="#163e57" stroke-width="0.9"/>
<circle cx="434.00" cy="423.33" r="2.45" fill="#419cc6" stroke="#163e57" stroke-width="0.9"/>
<circle cx="434.00" cy="442.27" r="2.45" fill="#419cc6" stroke="#163e57" stroke-width="0.9"/>
<circle cx="434.00" cy="452.65" r="2.45" fill="#419cc6" stroke="#163e57" stroke-width="0.9"/>
<circle cx="330.80" cy="464.72" r="2.45" fill="#b20f2d" stroke="#520713" stroke-width="0.9"/>
<circle cx="330.80" cy="466.70" r="2.45" fill="#b20f2d" stroke="#520713" stroke-width="0.9"/>
<circle cx="330.80" cy="468.99" r="2.45" fill="#b20f2d" stroke="#520713" stroke-width="0.9"/>
<circle cx="330.80" cy="471.28" r="2.45" fill="#b20f2d" stroke="#520713" stroke-width="0.9"/>
<circle cx="330.80" cy="474.34" r="2.45" fill="#b20f2d" stroke="#520713" stroke-width="0.9"/>
<circle cx="330.80" cy="475.10" r="2.45" fill="#b20f2d" stroke="#520713" stroke-width="0.9"/>
<circle cx="358.90" cy="462.88" r="2.45" fill="#b20f2d" stroke="#520713" stroke-width="0.9"/>
<circle cx="358.90" cy="465.17" r="2.45" fill="#b20f2d" stroke="#520713" stroke-width="0.9"/>
<circle cx="358.90" cy="467.47" r="2.45" fill="#b20f2d" stroke="#520713" stroke-width="0.9"/>
<circle cx="358.90" cy="469.76" r="2.45" fill="#b20f2d" stroke="#520713" stroke-width="0.9"/>
<circle cx="358.90" cy="472.05" r="2.45" fill="#b20f2d" stroke="#520713" stroke-width="0.9"/>
<circle cx="358.90" cy="474.34" r="2.45" fill="#b20f2d" stroke="#520713" stroke-width="0.9"/>
<circle cx="387.00" cy="455.71" r="2.45" fill="#b20f2d" stroke="#520713" stroke-width="0.9"/>
<circle cx="387.00" cy="458.30" r="2.45" fill="#b20f2d" stroke="#520713" stroke-width="0.9"/>
<circle cx="387.00" cy="461.36" r="2.45" fill="#b20f2d" stroke="#520713" stroke-width="0.9"/>
<circle cx="387.00" cy="465.94" r="2.45" fill="#b20f2d" stroke="#520713" stroke-width="0.9"/>
<circle cx="387.00" cy="468.84" r="2.45" fill="#b20f2d" stroke="#520713" stroke-width="0.9"/>
<circle cx="387.00" cy="475.10" r="2.45" fill="#b20f2d" stroke="#520713" stroke-width="0.9"/>
<circle cx="415.10" cy="454.64" r="2.45" fill="#b20f2d" stroke="#520713" stroke-width="0.9"/>
<circle cx="415.10" cy="457.54" r="2.45" fill="#b20f2d" stroke="#520713" stroke-width="0.9"/>
<circle cx="415.10" cy="461.36" r="2.45" fill="#b20f2d" stroke="#520713" stroke-width="0.9"/>
<circle cx="415.10" cy="465.17" r="2.45" fill="#b20f2d" stroke="#520713" stroke-width="0.9"/>
<circle cx="415.10" cy="468.99" r="2.45" fill="#b20f2d" stroke="#520713" stroke-width="0.9"/>
<circle cx="415.10" cy="472.81" r="2.45" fill="#b20f2d" stroke="#520713" stroke-width="0.9"/>
<circle cx="443.20" cy="448.53" r="2.45" fill="#b20f2d" stroke="#520713" stroke-width="0.9"/>
<circle cx="443.20" cy="451.43" r="2.45" fill="#b20f2d" stroke="#520713" stroke-width="0.9"/>
<circle cx="443.20" cy="454.49" r="2.45" fill="#b20f2d" stroke="#520713" stroke-width="0.9"/>
<circle cx="443.20" cy="457.54" r="2.45" fill="#b20f2d" stroke="#520713" stroke-width="0.9"/>
<circle cx="443.20" cy="460.59" r="2.45" fill="#b20f2d" stroke="#520713" stroke-width="0.9"/>
<circle cx="443.20" cy="463.65" r="2.45" fill="#b20f2d" stroke="#520713" stroke-width="0.9"/>
<circle cx="443.20" cy="466.70" r="2.45" fill="#b20f2d" stroke="#520713" stroke-width="0.9"/>
<circle cx="443.20" cy="470.82" r="2.45" fill="#b20f2d" stroke="#520713" stroke-width="0.9"/>
<defs><linearGradient id="ph1" x1="0" y1="0" x2="0" y2="1"><stop offset="0" stop-color="#5e8ad9"/><stop offset="1" stop-color="#5682d2"/></linearGradient><linearGradient id="ph2" x1="0" y1="0" x2="1" y2="1"><stop offset="0" stop-color="#4470c4"/><stop offset="0.5" stop-color="#3966bc"/><stop offset="1" stop-color="#335fb4"/></linearGradient><radialGradient id="tum" cx="0.45" cy="0.5" r="0.55"><stop offset="0" stop-color="#e8c6ae"/><stop offset="0.5" stop-color="#e0b59e"/><stop offset="0.85" stop-color="#ccaca6"/><stop offset="1" stop-color="#9ea4c6"/></radialGradient><radialGradient id="tum2" cx="0.45" cy="0.45" r="0.55"><stop offset="0" stop-color="#eccc9c"/><stop offset="0.45" stop-color="#f0e2cc"/><stop offset="0.85" stop-color="#e6e0d8"/><stop offset="1" stop-color="#a8aed0"/></radialGradient><radialGradient id="tumL" cx="0.5" cy="0.5" r="0.5"><stop offset="0" stop-color="#e9c6ac"/><stop offset="0.7" stop-color="#e2b9a0" stop-opacity="0.8"/><stop offset="1" stop-color="#e0b8a0" stop-opacity="0"/></radialGradient><filter id="tb" x="-40%" y="-40%" width="180%" height="180%"><feGaussianBlur stdDeviation="0.55"/></filter><filter id="tb2" x="-40%" y="-40%" width="180%" height="180%"><feGaussianBlur stdDeviation="1.0"/></filter></defs>
<text x="181.60" y="540.60" font-size="7.4" text-anchor="middle" font-weight="normal" fill="#111" textLength="25.0" lengthAdjust="spacingAndGlyphs" stroke="#111" stroke-width="0.2">TL-Om1</text>
<text x="383.20" y="540.40" font-size="8.2" text-anchor="middle" font-weight="normal" fill="#111" textLength="16.3" lengthAdjust="spacingAndGlyphs" stroke="#111" stroke-width="0.2">MT-2</text>
<text x="100.20" y="559.60" font-size="7.8" text-anchor="end" font-weight="normal" fill="#111" textLength="21.5" lengthAdjust="spacingAndGlyphs" stroke="#111" stroke-width="0.2">Parent</text>
<text x="100.20" y="579.30" font-size="7.8" text-anchor="end" font-weight="normal" fill="#111" textLength="22.5" lengthAdjust="spacingAndGlyphs" stroke="#111" stroke-width="0.2">AZA-R</text>
<text x="327.00" y="566.10" font-size="8.2" text-anchor="end" font-weight="normal" fill="#111" textLength="21.1" lengthAdjust="spacingAndGlyphs" stroke="#111" stroke-width="0.2">Parent</text>
<text x="327.00" y="583.70" font-size="8.2" text-anchor="end" font-weight="normal" fill="#111" textLength="22.1" lengthAdjust="spacingAndGlyphs" stroke="#111" stroke-width="0.2">AZA-R</text>
<rect x="103" y="545.7" width="157.5" height="42" fill="url(#ph1)"/>
<rect x="129.5" y="584.4" width="104.5" height="3.4" fill="#3a4f88"/>
<rect x="130.8" y="584.7" width="31.2" height="2.9" fill="#141c38"/>
<rect x="166.6" y="584.7" width="30.0" height="2.9" fill="#141c38"/>
<rect x="201.2" y="584.7" width="31.2" height="2.9" fill="#141c38"/>
<ellipse cx="111.4" cy="557.1" rx="7.6" ry="8.8" fill="#3f5fa8" opacity="0.5" filter="url(#tb2)"/>
<ellipse cx="111.4" cy="556.5" rx="6.8" ry="8.0" fill="url(#tum)" filter="url(#tb)"/>
<ellipse cx="110.56" cy="554.54" rx="4.08" ry="4.40" fill="url(#tumL)" filter="url(#tb)"/>
<ellipse cx="112.12" cy="554.11" rx="4.08" ry="4.40" fill="url(#tumL)" filter="url(#tb)"/>
<ellipse cx="110.04" cy="558.50" rx="3.06" ry="2.40" fill="#e58f68" opacity="0.4" filter="url(#tb)"/>
<ellipse cx="112.42" cy="554.10" rx="2.72" ry="2.40" fill="#f3d6bc" opacity="0.75" filter="url(#tb)"/>
<path d="M108.00,555.70 q3.40,-2.00 6.12,1.60" fill="none" stroke="#d9795a" stroke-width="0.7" opacity="0.6"/>
<ellipse cx="132.2" cy="556.9" rx="7.8" ry="9.600000000000001" fill="#3f5fa8" opacity="0.5" filter="url(#tb2)"/>
<ellipse cx="132.2" cy="556.3" rx="7.0" ry="8.8" fill="url(#tum)" filter="url(#tb)"/>
<ellipse cx="132.38" cy="555.47" rx="4.20" ry="4.84" fill="url(#tumL)" filter="url(#tb)"/>
<ellipse cx="130.03" cy="556.35" rx="4.20" ry="4.84" fill="url(#tumL)" filter="url(#tb)"/>
<ellipse cx="130.80" cy="558.50" rx="3.15" ry="2.64" fill="#e58f68" opacity="0.4" filter="url(#tb)"/>
<ellipse cx="133.25" cy="553.66" rx="2.80" ry="2.64" fill="#f3d6bc" opacity="0.75" filter="url(#tb)"/>
<path d="M128.70,555.42 q3.50,-2.20 6.30,1.76" fill="none" stroke="#d9795a" stroke-width="0.7" opacity="0.6"/>
<ellipse cx="151.4" cy="558.1" rx="8.0" ry="9.100000000000001" fill="#3f5fa8" opacity="0.5" filter="url(#tb2)"/>
<ellipse cx="151.4" cy="557.5" rx="7.2" ry="8.3" fill="url(#tum)" filter="url(#tb)"/>
<ellipse cx="149.07" cy="557.11" rx="4.32" ry="4.57" fill="url(#tumL)" filter="url(#tb)"/>
<ellipse cx="149.23" cy="555.12" rx="4.32" ry="4.57" fill="url(#tumL)" filter="url(#tb)"/>
<ellipse cx="149.96" cy="559.58" rx="3.24" ry="2.49" fill="#e58f68" opacity="0.4" filter="url(#tb)"/>
<ellipse cx="152.48" cy="555.01" rx="2.88" ry="2.49" fill="#f3d6bc" opacity="0.75" filter="url(#tb)"/>
<path d="M147.80,556.67 q3.60,-2.08 6.48,1.66" fill="none" stroke="#d9795a" stroke-width="0.7" opacity="0.6"/>
<ellipse cx="169.5" cy="557.3000000000001" rx="7.3999999999999995" ry="7.8" fill="#3f5fa8" opacity="0.5" filter="url(#tb2)"/>
<ellipse cx="169.5" cy="556.7" rx="6.6" ry="7.0" fill="url(#tum)" filter="url(#tb)"/>
<ellipse cx="169.15" cy="558.30" rx="3.96" ry="3.85" fill="url(#tumL)" filter="url(#tb)"/>
<ellipse cx="167.76" cy="555.34" rx="3.96" ry="3.85" fill="url(#tumL)" filter="url(#tb)"/>
<ellipse cx="168.18" cy="558.45" rx="2.97" ry="2.10" fill="#e58f68" opacity="0.4" filter="url(#tb)"/>
<ellipse cx="170.49" cy="554.60" rx="2.64" ry="2.10" fill="#f3d6bc" opacity="0.75" filter="url(#tb)"/>
<path d="M166.20,556.00 q3.30,-1.75 5.94,1.40" fill="none" stroke="#d9795a" stroke-width="0.7" opacity="0.6"/>
<ellipse cx="185.3" cy="557.6" rx="6.8" ry="7.6" fill="#3f5fa8" opacity="0.5" filter="url(#tb2)"/>
<ellipse cx="185.3" cy="557.0" rx="6.0" ry="6.8" fill="url(#tum)" filter="url(#tb)"/>
<ellipse cx="185.84" cy="559.13" rx="3.60" ry="3.74" fill="url(#tumL)" filter="url(#tb)"/>
<ellipse cx="185.62" cy="556.51" rx="3.60" ry="3.74" fill="url(#tumL)" filter="url(#tb)"/>
<ellipse cx="184.10" cy="558.70" rx="2.70" ry="2.04" fill="#e58f68" opacity="0.4" filter="url(#tb)"/>
<ellipse cx="186.20" cy="554.96" rx="2.40" ry="2.04" fill="#f3d6bc" opacity="0.75" filter="url(#tb)"/>
<path d="M182.30,556.32 q3.00,-1.70 5.40,1.36" fill="none" stroke="#d9795a" stroke-width="0.7" opacity="0.6"/>
<ellipse cx="199.7" cy="556.2" rx="5.6" ry="7.7" fill="#3f5fa8" opacity="0.5" filter="url(#tb2)"/>
<ellipse cx="199.7" cy="555.6" rx="4.8" ry="6.9" fill="url(#tum)" filter="url(#tb)"/>
<ellipse cx="201.30" cy="553.41" rx="2.88" ry="3.80" fill="url(#tumL)" filter="url(#tb)"/>
<ellipse cx="200.90" cy="554.58" rx="2.88" ry="3.80" fill="url(#tumL)" filter="url(#tb)"/>
<ellipse cx="198.74" cy="557.33" rx="2.16" ry="2.07" fill="#e58f68" opacity="0.4" filter="url(#tb)"/>
<ellipse cx="200.42" cy="553.53" rx="1.92" ry="2.07" fill="#f3d6bc" opacity="0.75" filter="url(#tb)"/>
<path d="M197.30,554.91 q2.40,-1.73 4.32,1.38" fill="none" stroke="#d9795a" stroke-width="0.7" opacity="0.6"/>
<ellipse cx="212.6" cy="557.5" rx="5.6" ry="8.1" fill="#3f5fa8" opacity="0.5" filter="url(#tb2)"/>
<ellipse cx="212.6" cy="556.9" rx="4.8" ry="7.3" fill="url(#tum)" filter="url(#tb)"/>
<ellipse cx="211.40" cy="554.95" rx="2.88" ry="4.02" fill="url(#tumL)" filter="url(#tb)"/>
<ellipse cx="211.96" cy="558.52" rx="2.88" ry="4.02" fill="url(#tumL)" filter="url(#tb)"/>
<ellipse cx="211.64" cy="558.73" rx="2.16" ry="2.19" fill="#e58f68" opacity="0.4" filter="url(#tb)"/>
<ellipse cx="213.32" cy="554.71" rx="1.92" ry="2.19" fill="#f3d6bc" opacity="0.75" filter="url(#tb)"/>
<path d="M210.20,556.17 q2.40,-1.82 4.32,1.46" fill="none" stroke="#d9795a" stroke-width="0.7" opacity="0.6"/>
<ellipse cx="227.0" cy="557.6" rx="6.0" ry="7.0" fill="#3f5fa8" opacity="0.5" filter="url(#tb2)"/>
<ellipse cx="227.0" cy="557.0" rx="5.2" ry="6.2" fill="url(#tum)" filter="url(#tb)"/>
<ellipse cx="225.84" cy="557.35" rx="3.12" ry="3.41" fill="url(#tumL)" filter="url(#tb)"/>
<ellipse cx="227.51" cy="556.45" rx="3.12" ry="3.41" fill="url(#tumL)" filter="url(#tb)"/>
<ellipse cx="225.96" cy="558.55" rx="2.34" ry="1.86" fill="#e58f68" opacity="0.4" filter="url(#tb)"/>
<ellipse cx="227.78" cy="555.14" rx="2.08" ry="1.86" fill="#f3d6bc" opacity="0.75" filter="url(#tb)"/>
<path d="M224.40,556.38 q2.60,-1.55 4.68,1.24" fill="none" stroke="#d9795a" stroke-width="0.7" opacity="0.6"/>
<ellipse cx="242.5" cy="558.1" rx="5.2" ry="5.8" fill="#3f5fa8" opacity="0.5" filter="url(#tb2)"/>
<ellipse cx="242.5" cy="557.5" rx="4.4" ry="5.0" fill="url(#tum)" filter="url(#tb)"/>
<ellipse cx="242.65" cy="555.97" rx="2.64" ry="2.75" fill="url(#tumL)" filter="url(#tb)"/>
<ellipse cx="241.14" cy="556.47" rx="2.64" ry="2.75" fill="url(#tumL)" filter="url(#tb)"/>
<ellipse cx="241.62" cy="558.75" rx="1.98" ry="1.50" fill="#e58f68" opacity="0.4" filter="url(#tb)"/>
<ellipse cx="243.16" cy="556.00" rx="1.76" ry="1.50" fill="#f3d6bc" opacity="0.75" filter="url(#tb)"/>
<path d="M240.30,557.00 q2.20,-1.25 3.96,1.00" fill="none" stroke="#d9795a" stroke-width="0.7" opacity="0.6"/>
<ellipse cx="254.6" cy="556.6" rx="5.2" ry="5.8" fill="#3f5fa8" opacity="0.5" filter="url(#tb2)"/>
<ellipse cx="254.6" cy="556.0" rx="4.4" ry="5.0" fill="url(#tum)" filter="url(#tb)"/>
<ellipse cx="255.16" cy="555.75" rx="2.64" ry="2.75" fill="url(#tumL)" filter="url(#tb)"/>
<ellipse cx="254.03" cy="556.30" rx="2.64" ry="2.75" fill="url(#tumL)" filter="url(#tb)"/>
<ellipse cx="253.72" cy="557.25" rx="1.98" ry="1.50" fill="#e58f68" opacity="0.4" filter="url(#tb)"/>
<ellipse cx="255.26" cy="554.50" rx="1.76" ry="1.50" fill="#f3d6bc" opacity="0.75" filter="url(#tb)"/>
<path d="M252.40,555.50 q2.20,-1.25 3.96,1.00" fill="none" stroke="#d9795a" stroke-width="0.7" opacity="0.6"/>
<ellipse cx="113.5" cy="575.6" rx="5.3" ry="5.8" fill="#3f5fa8" opacity="0.5" filter="url(#tb2)"/>
<ellipse cx="113.5" cy="575.0" rx="4.5" ry="5.0" fill="url(#tum)" filter="url(#tb)"/>
<ellipse cx="113.35" cy="574.30" rx="2.70" ry="2.75" fill="url(#tumL)" filter="url(#tb)"/>
<ellipse cx="114.43" cy="575.70" rx="2.70" ry="2.75" fill="url(#tumL)" filter="url(#tb)"/>
<ellipse cx="112.60" cy="576.25" rx="2.02" ry="1.50" fill="#e58f68" opacity="0.4" filter="url(#tb)"/>
<ellipse cx="114.17" cy="573.50" rx="1.80" ry="1.50" fill="#f3d6bc" opacity="0.75" filter="url(#tb)"/>
<path d="M111.25,574.50 q2.25,-1.25 4.05,1.00" fill="none" stroke="#d9795a" stroke-width="0.7" opacity="0.6"/>
<ellipse cx="132.0" cy="575.6" rx="4.8999999999999995" ry="5.6" fill="#3f5fa8" opacity="0.5" filter="url(#tb2)"/>
<ellipse cx="132.0" cy="575.0" rx="4.1" ry="4.8" fill="url(#tum)" filter="url(#tb)"/>
<ellipse cx="131.27" cy="575.25" rx="2.46" ry="2.64" fill="url(#tumL)" filter="url(#tb)"/>
<ellipse cx="132.07" cy="576.26" rx="2.46" ry="2.64" fill="url(#tumL)" filter="url(#tb)"/>
<ellipse cx="131.18" cy="576.20" rx="1.84" ry="1.44" fill="#e58f68" opacity="0.4" filter="url(#tb)"/>
<ellipse cx="132.62" cy="573.56" rx="1.64" ry="1.44" fill="#f3d6bc" opacity="0.75" filter="url(#tb)"/>
<path d="M129.95,574.52 q2.05,-1.20 3.69,0.96" fill="none" stroke="#d9795a" stroke-width="0.7" opacity="0.6"/>
<ellipse cx="151.5" cy="576.1" rx="4.1" ry="4.3" fill="#3f5fa8" opacity="0.5" filter="url(#tb2)"/>
<ellipse cx="151.5" cy="575.5" rx="3.3" ry="3.5" fill="url(#tum)" filter="url(#tb)"/>
<ellipse cx="167.0" cy="575.1" rx="5.3" ry="4.8" fill="#3f5fa8" opacity="0.5" filter="url(#tb2)"/>
<ellipse cx="167.0" cy="574.5" rx="4.5" ry="4.0" fill="url(#tum)" filter="url(#tb)"/>
<ellipse cx="167.72" cy="573.91" rx="2.70" ry="2.20" fill="url(#tumL)" filter="url(#tb)"/>
<ellipse cx="168.51" cy="573.43" rx="2.70" ry="2.20" fill="url(#tumL)" filter="url(#tb)"/>
<ellipse cx="166.10" cy="575.50" rx="2.02" ry="1.20" fill="#e58f68" opacity="0.4" filter="url(#tb)"/>
<ellipse cx="167.68" cy="573.30" rx="1.80" ry="1.20" fill="#f3d6bc" opacity="0.75" filter="url(#tb)"/>
<path d="M164.75,574.10 q2.25,-1.00 4.05,0.80" fill="none" stroke="#d9795a" stroke-width="0.7" opacity="0.6"/>
<ellipse cx="182.8" cy="575.6" rx="5.1" ry="4.4" fill="#3f5fa8" opacity="0.5" filter="url(#tb2)"/>
<ellipse cx="182.8" cy="575.0" rx="4.3" ry="3.6" fill="url(#tum)" filter="url(#tb)"/>
<ellipse cx="182.55" cy="575.65" rx="2.58" ry="1.98" fill="url(#tumL)" filter="url(#tb)"/>
<ellipse cx="181.75" cy="574.97" rx="2.58" ry="1.98" fill="url(#tumL)" filter="url(#tb)"/>
<ellipse cx="181.94" cy="575.90" rx="1.94" ry="1.08" fill="#e58f68" opacity="0.4" filter="url(#tb)"/>
<ellipse cx="183.45" cy="573.92" rx="1.72" ry="1.08" fill="#f3d6bc" opacity="0.75" filter="url(#tb)"/>
<path d="M180.65,574.64 q2.15,-0.90 3.87,0.72" fill="none" stroke="#d9795a" stroke-width="0.7" opacity="0.6"/>
<ellipse cx="198.0" cy="575.6" rx="4.7" ry="4.4" fill="#3f5fa8" opacity="0.5" filter="url(#tb2)"/>
<ellipse cx="198.0" cy="575.0" rx="3.9" ry="3.6" fill="url(#tum)" filter="url(#tb)"/>
<ellipse cx="212.6" cy="574.1" rx="4.0" ry="4.2" fill="#3f5fa8" opacity="0.5" filter="url(#tb2)"/>
<ellipse cx="212.6" cy="573.5" rx="3.2" ry="3.4" fill="url(#tum)" filter="url(#tb)"/>
<ellipse cx="224.7" cy="575.6" rx="3.8" ry="3.8" fill="#3f5fa8" opacity="0.5" filter="url(#tb2)"/>
<ellipse cx="224.7" cy="575.0" rx="3.0" ry="3.0" fill="url(#tum)" filter="url(#tb)"/>
<ellipse cx="239.0" cy="576.1" rx="3.4000000000000004" ry="3.4000000000000004" fill="#3f5fa8" opacity="0.5" filter="url(#tb2)"/>
<ellipse cx="239.0" cy="575.5" rx="2.6" ry="2.6" fill="url(#tum)" filter="url(#tb)"/>
<rect x="330.2" y="545.6" width="105.8" height="42.2" fill="url(#ph2)"/>
<rect x="330.5" y="546.0" width="105.3" height="6.2" fill="#23387c"/>
<rect x="338.6" y="546.6" width="37.0" height="5.0" fill="#0a1236" stroke="#5f78b6" stroke-width="0.6"/>
<rect x="382.2" y="546.6" width="34.6" height="5.0" fill="#0a1236" stroke="#5f78b6" stroke-width="0.6"/>
<rect x="423.2" y="546.6" width="12.4" height="5.0" fill="#0a1236" stroke="#5f78b6" stroke-width="0.6"/>
<line x1="339.5" y1="548.9" x2="434" y2="548.9" stroke="#34488a" stroke-width="0.6"/>
<ellipse cx="420.2" cy="549.1" rx="2.4" ry="2.2" fill="none" stroke="#6a80b8" stroke-width="0.8"/>
<rect x="376.8" y="546.8" width="5" height="4.8" fill="none" stroke="#5a70aa" stroke-width="0.7"/>
<line x1="336.5" y1="546.5" x2="336.5" y2="551.5" stroke="#6d86c0" stroke-width="0.8"/>
<ellipse cx="338.8" cy="565.6999999999999" rx="5.8" ry="6.8" fill="#15306e" opacity="0.7" filter="url(#tb2)"/>
<ellipse cx="338.5" cy="565.4" rx="4.8" ry="5.8" fill="url(#tum2)" filter="url(#tb)"/>
<ellipse cx="352.2" cy="565.3" rx="5.8" ry="6.4" fill="#15306e" opacity="0.7" filter="url(#tb2)"/>
<ellipse cx="351.9" cy="565.0" rx="4.8" ry="5.4" fill="url(#tum2)" filter="url(#tb)"/>
<ellipse cx="365.5" cy="566.3" rx="5.0" ry="5.8" fill="#15306e" opacity="0.7" filter="url(#tb2)"/>
<ellipse cx="365.2" cy="566.0" rx="4.0" ry="4.8" fill="url(#tum2)" filter="url(#tb)"/>
<ellipse cx="378.6" cy="565.3" rx="4.4" ry="5.3" fill="#15306e" opacity="0.7" filter="url(#tb2)"/>
<ellipse cx="378.3" cy="565.0" rx="3.4" ry="4.3" fill="url(#tum2)" filter="url(#tb)"/>
<ellipse cx="390.7" cy="565.8" rx="4.8" ry="5.0" fill="#15306e" opacity="0.7" filter="url(#tb2)"/>
<ellipse cx="390.4" cy="565.5" rx="3.8" ry="4.0" fill="url(#tum2)" filter="url(#tb)"/>
<ellipse cx="401.8" cy="566.3" rx="4.4" ry="4.5" fill="#15306e" opacity="0.7" filter="url(#tb2)"/>
<ellipse cx="401.5" cy="566.0" rx="3.4" ry="3.5" fill="url(#tum2)" filter="url(#tb)"/>
<ellipse cx="410.90000000000003" cy="566.3" rx="4.0" ry="4.2" fill="#15306e" opacity="0.7" filter="url(#tb2)"/>
<ellipse cx="410.6" cy="566.0" rx="3.0" ry="3.2" fill="url(#tum2)" filter="url(#tb)"/>
<ellipse cx="420.3" cy="565.8" rx="4.6" ry="4.2" fill="#15306e" opacity="0.7" filter="url(#tb2)"/>
<ellipse cx="420.0" cy="565.5" rx="3.6" ry="3.2" fill="url(#tum2)" filter="url(#tb)"/>
<ellipse cx="340.3" cy="581.3" rx="4.4" ry="4.6" fill="#15306e" opacity="0.7" filter="url(#tb2)"/>
<ellipse cx="340.0" cy="581.0" rx="3.4" ry="3.6" fill="url(#tum2)" filter="url(#tb)"/>
<ellipse cx="353.3" cy="581.3" rx="4.1" ry="4.5" fill="#15306e" opacity="0.7" filter="url(#tb2)"/>
<ellipse cx="353.0" cy="581.0" rx="3.1" ry="3.5" fill="url(#tum2)" filter="url(#tb)"/>
<ellipse cx="365.7" cy="581.3" rx="4.3" ry="4.2" fill="#15306e" opacity="0.7" filter="url(#tb2)"/>
<ellipse cx="365.4" cy="581.0" rx="3.3" ry="3.2" fill="url(#tum2)" filter="url(#tb)"/>
<ellipse cx="379.0" cy="580.8" rx="3.2" ry="3.8" fill="#15306e" opacity="0.7" filter="url(#tb2)"/>
<ellipse cx="378.7" cy="580.5" rx="2.2" ry="2.8" fill="url(#tum2)" filter="url(#tb)"/>
<ellipse cx="390.90000000000003" cy="580.8" rx="3.8" ry="4.0" fill="#15306e" opacity="0.7" filter="url(#tb2)"/>
<ellipse cx="390.6" cy="580.5" rx="2.8" ry="3.0" fill="url(#tum2)" filter="url(#tb)"/>
<ellipse cx="402.1" cy="580.3" rx="3.4" ry="3.8" fill="#15306e" opacity="0.7" filter="url(#tb2)"/>
<ellipse cx="401.8" cy="580.0" rx="2.4" ry="2.8" fill="url(#tum2)" filter="url(#tb)"/>
<ellipse cx="412.1" cy="580.3" rx="3.5" ry="3.8" fill="#15306e" opacity="0.7" filter="url(#tb2)"/>
<ellipse cx="411.8" cy="580.0" rx="2.5" ry="2.8" fill="url(#tum2)" filter="url(#tb)"/>
<ellipse cx="421.3" cy="579.8" rx="3.6" ry="3.6" fill="#15306e" opacity="0.7" filter="url(#tb2)"/>
<ellipse cx="421.0" cy="579.5" rx="2.6" ry="2.6" fill="url(#tum2)" filter="url(#tb)"/>
<ellipse cx="430.3" cy="578.8" rx="2.8" ry="2.2" fill="#15306e" opacity="0.7" filter="url(#tb2)"/>
<ellipse cx="430.0" cy="578.5" rx="1.8" ry="1.2" fill="url(#tum2)" filter="url(#tb)"/>
<line x1="0" y1="0.55" x2="520" y2="0.55" stroke="#585858" stroke-width="1.3"/>
<line x1="0.55" y1="0" x2="0.55" y2="595" stroke="#585858" stroke-width="1.3"/>
<line x1="519.4" y1="0" x2="519.4" y2="595" stroke="#4a4a4a" stroke-width="1.3"/>
<line x1="0" y1="594.3" x2="520" y2="594.3" stroke="#4a4a4a" stroke-width="1.5"/>
</svg>
</body></html>
